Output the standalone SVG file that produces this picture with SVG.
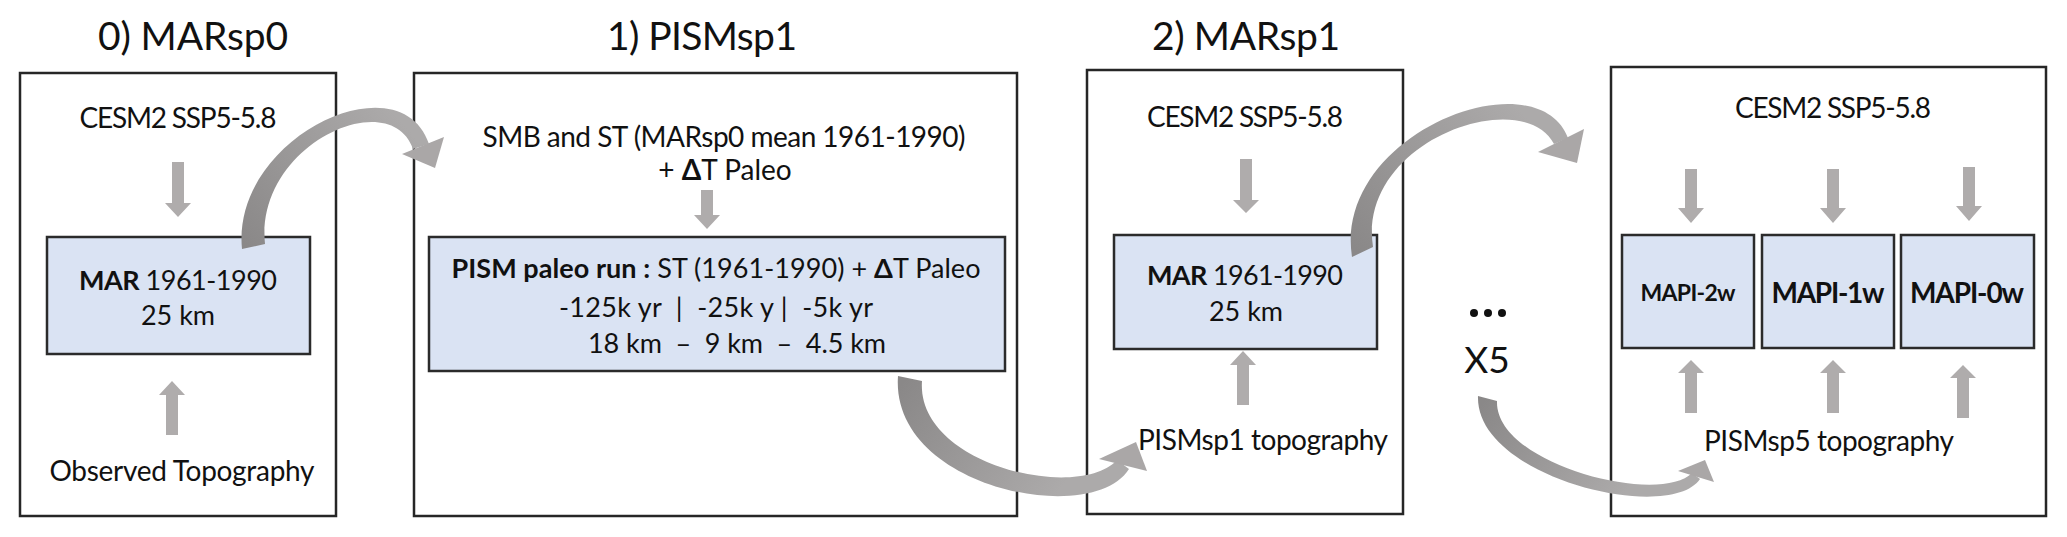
<svg xmlns="http://www.w3.org/2000/svg" width="2067" height="537" viewBox="0 0 2067 537">
<defs>
<style>
.frame{fill:#ffffff;stroke:#262626;stroke-width:2.5}
.inner{fill:#dae3f3;stroke:#2b2b2b;stroke-width:2.5}
.t{font-family:Lato,"Open Sans","Liberation Sans",sans-serif;fill:#111111}
.title{font-size:39px;text-anchor:middle}
.lbl{font-size:28px;text-anchor:middle}
.in{font-size:27px;text-anchor:middle}
.b{font-weight:bold}
.sa{fill:#afacac}
.ch{fill:#aaa7a7}
</style>
<linearGradient id="g1" gradientUnits="userSpaceOnUse" x1="250" y1="250" x2="400" y2="120"><stop offset="0" stop-color="#8a8888"/><stop offset="1" stop-color="#acaaaa"/></linearGradient>
<linearGradient id="g2" gradientUnits="userSpaceOnUse" x1="905" y1="380" x2="1060" y2="490"><stop offset="0" stop-color="#8a8888"/><stop offset="1" stop-color="#acaaaa"/></linearGradient>
<linearGradient id="g3" gradientUnits="userSpaceOnUse" x1="1360" y1="255" x2="1520" y2="110"><stop offset="0" stop-color="#8a8888"/><stop offset="1" stop-color="#acaaaa"/></linearGradient>
<linearGradient id="g4" gradientUnits="userSpaceOnUse" x1="1485" y1="400" x2="1620" y2="500"><stop offset="0" stop-color="#8a8888"/><stop offset="1" stop-color="#acaaaa"/></linearGradient>
</defs>
<rect width="2067" height="537" fill="#ffffff"/>

<g id="node-marsp0">
<text class="t title" x="193" y="50" textLength="190" lengthAdjust="spacing">0) MARsp0</text>
<rect class="frame" x="20" y="73" width="316" height="443"/>
<text class="t lbl" x="178" y="128" textLength="197" lengthAdjust="spacing">CESM2 SSP5-5.8</text>
<rect class="inner" x="47" y="237" width="263" height="117"/>
<text class="t in" x="178" y="290" textLength="198" lengthAdjust="spacing"><tspan class="b">MAR</tspan> 1961-1990</text>
<text class="t in" x="178" y="325">25 km</text>
<text class="t lbl" x="182" y="481" textLength="265" lengthAdjust="spacing">Observed Topography</text>
</g>

<g id="node-pismsp1">
<text class="t title" x="702" y="50" textLength="190" lengthAdjust="spacing">1) PISMsp1</text>
<rect class="frame" x="414" y="73" width="603" height="443"/>
<text class="t lbl" x="724" y="147" textLength="483" lengthAdjust="spacing">SMB and ST (MARsp0 mean 1961-1990)</text>
<text class="t lbl" x="725" y="180">+ <tspan class="b">Δ</tspan>T Paleo</text>
<rect class="inner" x="429" y="237" width="576" height="134"/>
<text class="t in" x="716" y="278" textLength="529" lengthAdjust="spacing"><tspan class="b">PISM paleo run :</tspan> ST (1961-1990) + <tspan class="b">Δ</tspan>T Paleo</text>
<text class="t in" x="716" y="317" textLength="314" lengthAdjust="spacing" xml:space="preserve">-125k yr  |  -25k y |  -5k yr</text>
<text class="t in" x="737" y="353" textLength="298" lengthAdjust="spacing" xml:space="preserve">18 km  –  9 km  –  4.5 km</text>
</g>

<g id="node-marsp1">
<text class="t title" x="1246" y="50" textLength="188" lengthAdjust="spacing">2) MARsp1</text>
<rect class="frame" x="1087" y="70" width="316" height="444"/>
<text class="t lbl" x="1245" y="127" textLength="196" lengthAdjust="spacing">CESM2 SSP5-5.8</text>
<rect class="inner" x="1114" y="235" width="263" height="114"/>
<text class="t in" x="1245" y="285" textLength="196" lengthAdjust="spacing"><tspan class="b">MAR</tspan> 1961-1990</text>
<text class="t in" x="1246" y="321">25 km</text>
<text class="t lbl" x="1263" y="450" textLength="250" lengthAdjust="spacing">PISMsp1 topography</text>
</g>

<g id="node-repeat">
<circle cx="1474" cy="313" r="4" fill="#111"/>
<circle cx="1488" cy="313" r="4" fill="#111"/>
<circle cx="1502" cy="313" r="4" fill="#111"/>
<text class="t" x="1487" y="373" font-size="37" text-anchor="middle">X5</text>
</g>

<g id="node-mapi">
<rect class="frame" x="1611" y="67" width="435" height="449"/>
<text class="t lbl" x="1833" y="118" textLength="196" lengthAdjust="spacing">CESM2 SSP5-5.8</text>
<rect class="inner" x="1622" y="235" width="132" height="113"/>
<rect class="inner" x="1762" y="235" width="132" height="113"/>
<rect class="inner" x="1901" y="235" width="133" height="113"/>
<text class="t b" x="1688" y="301" font-size="23" text-anchor="middle" textLength="95" lengthAdjust="spacing">MAPI-2w</text>
<text class="t b" x="1828" y="303" font-size="28" text-anchor="middle" textLength="113" lengthAdjust="spacing">MAPI-1w</text>
<text class="t b" x="1967" y="303" font-size="28" text-anchor="middle" textLength="114" lengthAdjust="spacing">MAPI-0w</text>
<text class="t lbl" x="1829" y="451" textLength="250" lengthAdjust="spacing">PISMsp5 topography</text>
</g>

<g id="connectors">
<polygon class="sa" points="172,162 184,162 184,203 191,203 178,217 165,203 172,203"/>
<polygon class="sa" points="701,190 713,190 713,215 720,215 707,229 694,215 701,215"/>
<polygon class="sa" points="1240,159 1252,159 1252,200 1259,200 1246,213 1233,200 1240,200"/>
<polygon class="sa" points="1685,169 1697,169 1697,208 1704,208 1691,223 1678,208 1685,208"/>
<polygon class="sa" points="1827,169 1839,169 1839,208 1846,208 1833,223 1820,208 1827,208"/>
<polygon class="sa" points="1963,167 1975,167 1975,206 1982,206 1969,221 1956,206 1963,206"/>
<polygon class="sa" points="166,435 178,435 178,395 185,395 172,381 159,395 166,395"/>
<polygon class="sa" points="1237,405 1249,405 1249,365 1256,365 1243,351 1230,365 1237,365"/>
<polygon class="sa" points="1685,413 1697,413 1697,373 1704,373 1691,360 1678,373 1685,373"/>
<polygon class="sa" points="1827,413 1839,413 1839,373 1846,373 1833,360 1820,373 1827,373"/>
<polygon class="sa" points="1957,418 1969,418 1969,378 1976,378 1963,365 1950,378 1957,378"/>
<path fill="url(#g1)" d="M 242 249 C 231 138, 400 58, 429 144 L 413 149 C 390 84, 255 145, 265 244 Z"/>
<polygon class="ch" points="402,154 444,137 435,168"/>
<path fill="url(#g2)" d="M 898 376 C 890 488, 1092 528, 1129 469 L 1117 460 C 1078 502, 916 465, 922 381 Z"/>
<polygon class="ch" points="1099,459 1147,471 1136,442"/>
<path fill="url(#g3)" d="M 1352 257 C 1333 133, 1537 56, 1568 138 L 1554 144 C 1523 84, 1357 140, 1373 247 Z"/>
<polygon class="ch" points="1538,152 1584,129 1577,163"/>
<path fill="url(#g4)" d="M 1478 396 C 1475 478, 1670 524, 1700 479 L 1692 473 C 1660 506, 1495 465, 1497 401 Z"/>
<polygon class="ch" points="1678,471 1714,482 1705,460"/>
</g>
</svg>
